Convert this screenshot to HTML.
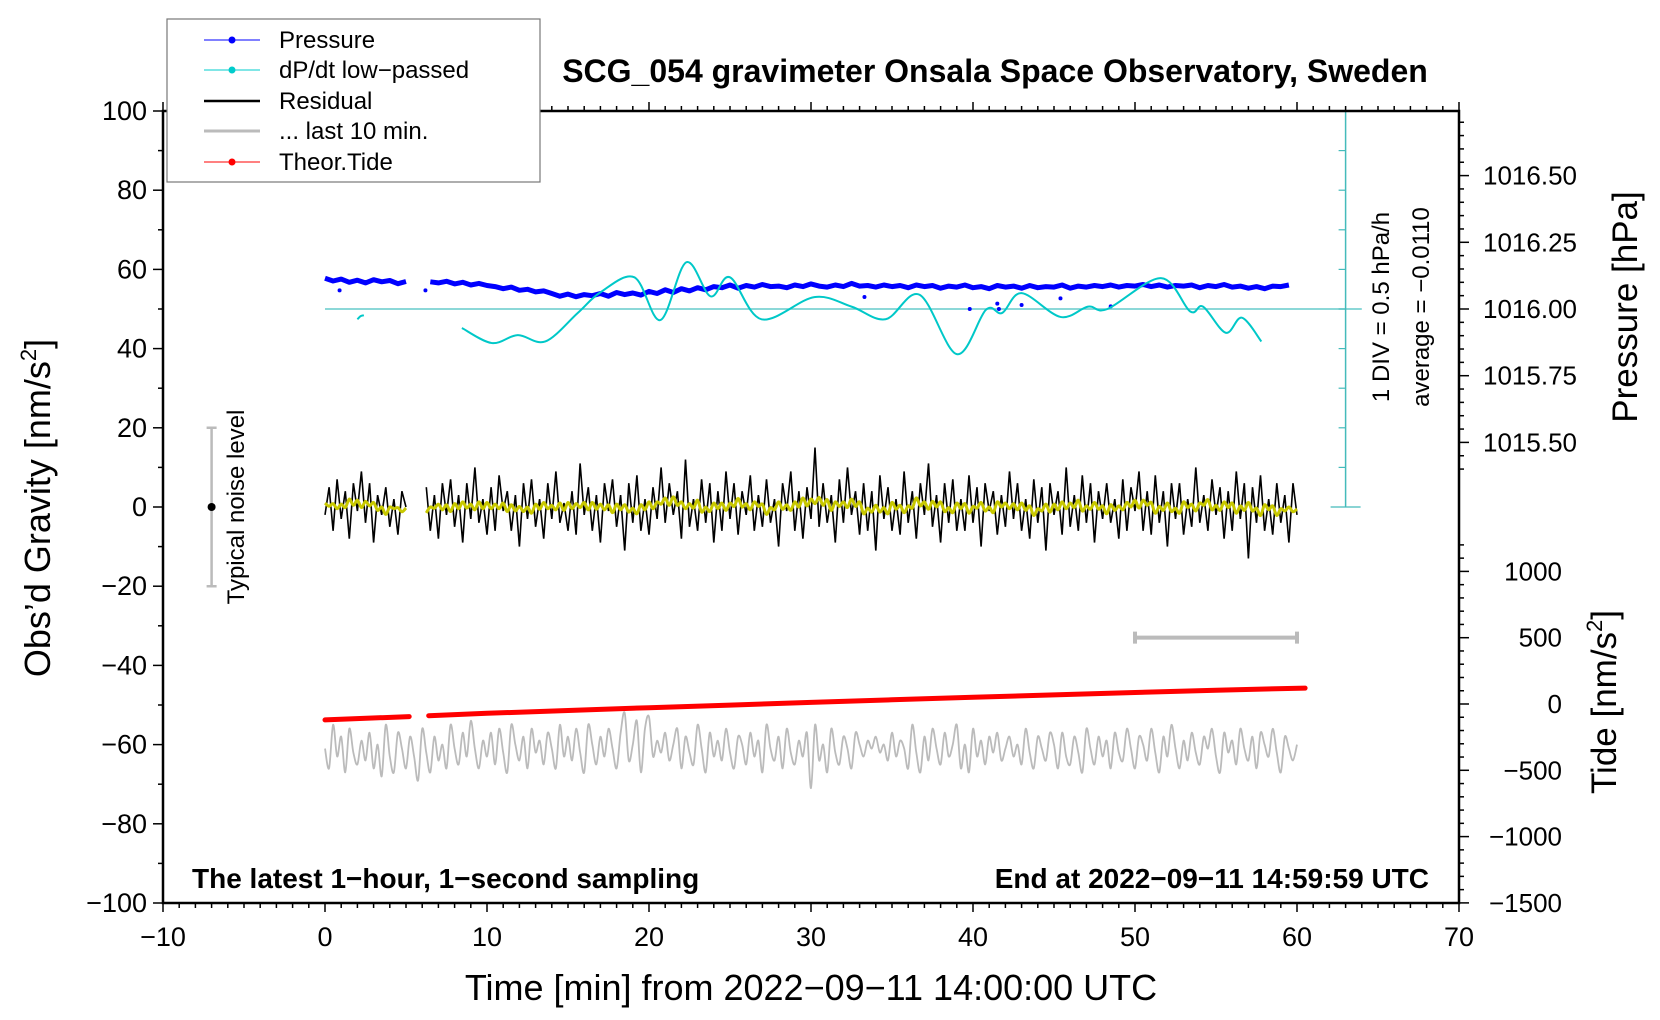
<!DOCTYPE html>
<html><head><meta charset="utf-8"><style>
html,body{margin:0;padding:0;background:#fff}
svg{display:block;font-family:"Liberation Sans",sans-serif}
</style></head><body>
<svg id="chart" width="1660" height="1020" viewBox="0 0 1660 1020" xmlns="http://www.w3.org/2000/svg">
<rect x="0" y="0" width="1660" height="1020" fill="#fff"/>
<g id="marks"></g>
<g id="axes"></g>
<text x="995" y="82" font-size="32" font-weight="bold" text-anchor="middle">SCG_054 gravimeter Onsala Space Observatory, Sweden</text>
<text transform="translate(50,508) rotate(-90)" font-size="36" text-anchor="middle">Obs’d Gravity [nm/s<tspan font-size="22" dy="-14">2</tspan><tspan dy="14">]</tspan></text>
<text x="811" y="1000" font-size="36" text-anchor="middle">Time [min] from 2022−09−11 14:00:00 UTC</text>
<text transform="translate(1637,307) rotate(-90)" font-size="35" text-anchor="middle">Pressure [hPa]</text>
<text transform="translate(1616,702) rotate(-90)" font-size="35" text-anchor="middle">Tide [nm/s<tspan font-size="22" dy="-14">2</tspan><tspan dy="14">]</tspan></text>
<text x="192" y="888" font-size="28" font-weight="bold">The latest 1−hour, 1−second sampling</text>
<text x="1429" y="888" font-size="28" font-weight="bold" text-anchor="end">End at 2022−09−11 14:59:59 UTC</text>
<text transform="translate(1389,307) rotate(-90)" font-size="24" text-anchor="middle">1 DIV = 0.5 hPa/h</text>
<text transform="translate(1429,307) rotate(-90)" font-size="24" text-anchor="middle">average = −0.0110</text>
<text transform="translate(244,507) rotate(-90)" font-size="24" text-anchor="middle">Typical noise level</text>
<g>
<rect x="167" y="19" width="373" height="163" fill="#fff" stroke="#777" stroke-width="1.2"/>
<line x1="204" y1="40" x2="260" y2="40" stroke="#0000ff" stroke-width="1"/><circle cx="232" cy="40" r="3.5" fill="#0000ff"/>
<text x="279" y="48" font-size="24">Pressure</text>
<line x1="204" y1="70" x2="260" y2="70" stroke="#00cccc" stroke-width="1"/><circle cx="232" cy="70" r="3.5" fill="#00cccc"/>
<text x="279" y="78" font-size="24">dP/dt low−passed</text>
<line x1="204" y1="101" x2="260" y2="101" stroke="#000" stroke-width="2.5"/>
<text x="279" y="109" font-size="24">Residual</text>
<line x1="204" y1="131" x2="260" y2="131" stroke="#bbb" stroke-width="3"/>
<text x="279" y="139" font-size="24">... last 10 min.</text>
<line x1="204" y1="162" x2="260" y2="162" stroke="#ff0000" stroke-width="1"/><circle cx="232" cy="162" r="3.5" fill="#ff0000"/>
<text x="279" y="170" font-size="24">Theor.Tide</text>
</g>
</svg>
<script>
// ---- data ----
const residualStart = 0, residualStep = 0.25;
const residualValues = [-2,5,-6,7,-3,4,-8,6,-1,9,-4,6,-9,3,-2,5,-5,2,-7,4,0,null,null,null,null,
5,-6,3,-8,6,-2,7,-5,3,-9,6,-3,10,-4,2,-7,5,-6,8,-1,4,-6,3,-10,6,-3,7,-5,2,-8,6,-3,9,-4,1,-6,
4,-7,11,-2,5,-6,3,-9,6,-1,7,-5,3,-11,6,-4,8,-6,2,-7,5,-3,10,-4,6,-2,4,-8,12,-5,2,-6,7,-4,6,-9,
4,-6,9,-3,6,-7,4,-2,8,-6,3,-5,7,-4,2,-10,6,-1,9,-6,4,-8,5,-3,15,-5,6,-4,3,-9,7,-4,10,-2,4,-7,
6,-6,4,-11,8,-3,5,-6,2,-7,9,-4,4,-8,6,-2,11,-5,3,-9,6,-4,7,-6,2,-6,8,-4,5,-10,6,-1,4,-7,3,-5,
9,-3,6,-6,2,-8,7,-4,5,-11,6,-2,4,-7,10,-5,3,-6,8,-4,6,-9,4,-3,6,-4,2,-8,7,-6,5,-1,9,-6,4,-7,
8,-4,4,-10,6,-3,6,-7,2,-5,10,-4,3,-6,7,-2,5,-8,4,-6,9,-3,6,-13,5,-4,8,-6,2,-7,6,-4,3,-9,6,-2];
const last10Start = 0, last10Step = 0.25;
const last10Values = [-61,-66,-55,-63,-58,-67,-56,-62,-65,-59,-64,-57,-66,-60,-68,-55,-63,-67,-57,-61,-66,-58,-63,-69,
-56,-62,-67,-58,-64,-60,-66,-55,-61,-65,-57,-63,-54,-61,-66,-59,-63,-57,-65,-56,-62,-67,-55,-60,
-64,-58,-66,-56,-62,-59,-65,-57,-61,-66,-55,-63,-58,-64,-56,-62,-67,-55,-60,-65,-58,-63,-56,-61,
-66,-57,-52,-64,-60,-54,-67,-56,-53,-63,-59,-62,-57,-64,-60,-56,-66,-58,-62,-65,-55,-61,-67,-57,
-63,-59,-64,-56,-62,-66,-58,-60,-65,-57,-63,-59,-67,-55,-61,-64,-58,-66,-56,-62,-65,-59,-63,-57,
-71,-55,-64,-60,-67,-56,-62,-65,-58,-61,-66,-57,-60,-63,-59,-61,-58,-62,-60,-64,-57,-63,-59,-61,
-66,-55,-62,-67,-58,-64,-56,-61,-65,-57,-63,-60,-55,-66,-60,-67,-56,-63,-59,-65,-58,-62,-57,-64,
-61,-58,-63,-60,-65,-56,-62,-66,-58,-61,-64,-57,-60,-66,-57,-63,-65,-58,-62,-67,-56,-61,-65,-58,
-63,-59,-66,-57,-62,-64,-56,-61,-66,-58,-60,-64,-56,-62,-67,-58,-63,-55,-61,-66,-59,-64,-57,-62,
-65,-58,-61,-56,-63,-67,-57,-62,-59,-65,-56,-61,-64,-58,-66,-57,-60,-63,-56,-62,-67,-58,-61,-64,-60];
const pressureStart = 0, pressureStep = 0.5;
const pressureValues = [1016.115,1016.105,1016.112,1016.100,1016.108,1016.098,1016.110,1016.102,1016.107,1016.095,1016.103,null,null,
1016.102,1016.098,1016.104,1016.094,1016.100,1016.090,1016.096,1016.088,
1016.084,1016.076,1016.082,1016.070,1016.074,1016.064,1016.068,1016.058,
1016.048,1016.056,1016.046,1016.054,1016.050,1016.058,1016.048,1016.062,1016.054,1016.060,1016.052,
1016.066,1016.058,1016.072,1016.062,1016.076,1016.068,1016.080,1016.072,1016.084,
1016.080,1016.090,1016.078,1016.088,1016.082,1016.092,1016.084,1016.086,1016.080,1016.090,1016.084,1016.094,
1016.086,1016.082,1016.090,1016.084,1016.096,1016.086,1016.088,1016.082,1016.090,1016.084,1016.088,1016.080,
1016.090,1016.084,1016.088,1016.078,1016.086,1016.082,1016.090,1016.080,1016.084,1016.076,1016.088,1016.082,
1016.086,1016.078,1016.088,1016.080,1016.084,1016.082,1016.090,1016.078,1016.086,1016.082,1016.088,1016.084,
1016.090,1016.082,1016.088,1016.086,1016.092,1016.084,1016.090,1016.082,1016.088,1016.086,1016.090,1016.080,
1016.088,1016.084,1016.092,1016.082,1016.086,1016.078,1016.084,1016.076,1016.086,1016.084,1016.090];
const pressureOutlierTimes = [0.9,6.2,33.3,39.8,41.5,41.6,43.0,45.4,48.5];
const pressureOutlierValues = [1016.07,1016.07,1016.045,1016.0,1016.02,1016.0,1016.015,1016.04,1016.01];
const dpdtSeg1Times = [2.0,2.2,2.4];
const dpdtSeg1Values = [-0.13,-0.09,-0.08];
const dpdtTimes = [8.45,10.3,11.9,13.6,15.6,17.0,19.1,20.7,22.3,23.8,25.0,26.95,30.2,32.5,34.6,36.7,39.0,40.8,41.8,43.0,45.4,47.1,48.3,51.6,53.4,54.2,55.6,56.6,57.8];
const dpdtValues = [-0.24,-0.43,-0.33,-0.41,-0.05,0.21,0.40,-0.14,0.59,0.16,0.40,-0.13,0.15,0.03,-0.13,0.18,-0.57,-0.01,-0.05,0.20,-0.10,0.03,0.0,0.39,-0.03,0.03,-0.30,-0.11,-0.41];
const tideTimes = [0,5.2,null,6.4,10,15,20,25,30,35,40,45,50,55,60.5];
const tideValues = [-120,-95,null,-88,-70,-49,-28,-8,12,32,51,69,87,104,120];
const leftTicks = [100,80,60,40,20,0,-20,-40,-60,-80,-100];
const xTicks = [-10,0,10,20,30,40,50,60,70];
const pressureTicks = [1016.50,1016.25,1016.00,1015.75,1015.50];
const tideTicks = [1000,500,0,-500,-1000,-1500];

// ---- scales ----
const X0=163, X1=1459, Y0=111, Y1=903;
const xs = t => X0 + (t+10)*(X1-X0)/80;
const yg = g => Y0 + (100-g)*(Y1-Y0)/200;
const yp = p => 309 - (p-1016.0)*66.7/0.25;
const yt = v => 704 - v*66.3/500;
const yd = d => 309 - d*39.6/0.5;
const NS="http://www.w3.org/2000/svg";
const marks=document.getElementById('marks'), axes=document.getElementById('axes');
function el(tag,attrs,parent){const e=document.createElementNS(NS,tag);for(const k in attrs)e.setAttribute(k,attrs[k]);parent.appendChild(e);return e;}
function segs(start,step,vals,yf){const out=[];let cur=[];vals.forEach((v,i)=>{if(v===null){if(cur.length)out.push(cur);cur=[];}else cur.push([xs(start+i*step),yf(v)]);});if(cur.length)out.push(cur);return out;}
function ptsStr(a){return a.map(p=>p[0].toFixed(1)+','+p[1].toFixed(1)).join(' ');}
function catmull(p){let d='M'+p[0][0]+','+p[0][1];for(let i=0;i<p.length-1;i++){const a=p[i-1]||p[i],b=p[i],c=p[i+1],e=p[i+2]||c;d+=' C'+(b[0]+(c[0]-a[0])/6)+','+(b[1]+(c[1]-a[1])/6)+' '+(c[0]-(e[0]-b[0])/6)+','+(c[1]-(e[1]-b[1])/6)+' '+c[0]+','+c[1];}return d;}

let e;
e=el('line',{x1:xs(0),y1:yd(0),x2:xs(64),y2:yd(0),stroke:'#66cccc','stroke-width':1.5},marks);


e=el('line',{x1:xs(63),y1:yg(100),x2:xs(63),y2:yg(0),stroke:'#44bbbb','stroke-width':1.5},marks);


for(let g=0;g<=100;g+=10){e=el('line',{x1:xs(63)-(g===0?15:7),y1:yg(g),x2:xs(63)+(g===0?15:0),y2:yg(g),stroke:'#44bbbb','stroke-width':1.2},marks);

}

// pressure
segs(pressureStart,pressureStep,pressureValues,yp).forEach(s=>{
 e=el('polyline',{points:ptsStr(s),fill:'none',stroke:'#0000ff','stroke-width':5,'stroke-linejoin':'round'},marks);
 
 
});
pressureOutlierTimes.forEach((t,i)=>{e=el('circle',{cx:xs(t),cy:yp(pressureOutlierValues[i]),r:2,fill:'#0000ff'},marks);

});

// dP/dt
[[dpdtSeg1Times,dpdtSeg1Values],[dpdtTimes,dpdtValues]].forEach(([ts,vs])=>{
 const p=ts.map((t,i)=>[xs(t),yd(vs[i])]);
 e=el('path',{d:catmull(p),fill:'none',stroke:'#00c8c8','stroke-width':2},marks);
 
 
});

// residual
segs(residualStart,residualStep,residualValues,yg).forEach(s=>{
 e=el('polyline',{points:ptsStr(s),fill:'none',stroke:'#000','stroke-width':1.6},marks);
 
 
});
const smooth=residualValues.map((v,i)=>{if(v===null)return null;let s=0,n=0;for(let k=-3;k<=3;k++){const w=residualValues[i+k];if(w!==undefined&&w!==null){s+=w;n++;}}return s/n;});
segs(residualStart,residualStep,smooth,yg).forEach(s=>{
 e=el('path',{d:catmull(s),fill:'none',stroke:'#c8c800','stroke-width':3},marks);
 
 
});

// last 10 min
segs(last10Start,last10Step,last10Values,yg).forEach(s=>{
 e=el('path',{d:catmull(s),fill:'none',stroke:'#bbbbbb','stroke-width':1.8},marks);
 
 
});
e=el('path',{d:`M${xs(50)},${yg(-33)}H${xs(60)}M${xs(50)},${yg(-33)-6}V${yg(-33)+6}M${xs(60)},${yg(-33)-6}V${yg(-33)+6}`,stroke:'#bbbbbb','stroke-width':4,fill:'none'},marks);



// tide
{let cur=[];const out=[];tideTimes.forEach((t,i)=>{if(t===null){out.push(cur);cur=[];}else cur.push([xs(t),yt(tideValues[i])]);});out.push(cur);
out.forEach(s=>{e=el('polyline',{points:ptsStr(s),fill:'none',stroke:'#ff0000','stroke-width':5,'stroke-linecap':'round'},marks);

});}

// noise bar
e=el('path',{d:`M${xs(-7)},${yg(20)}V${yg(-20)}M${xs(-7)-5},${yg(20)}H${xs(-7)+5}M${xs(-7)-5},${yg(-20)}H${xs(-7)+5}`,stroke:'#bbbbbb','stroke-width':2.5,fill:'none'},marks);


e=el('circle',{cx:xs(-7),cy:yg(0),r:4,fill:'#000'},marks);



// ---- axes ----
e=el('rect',{x:X0,y:Y0,width:X1-X0,height:Y1-Y0,fill:'none',stroke:'#000','stroke-width':2.5},axes);


function tk(x1,y1,x2,y2,w){el('line',{x1,y1,x2,y2,stroke:'#000','stroke-width':w||1.5},axes);}
for(let t=-10;t<=70;t++){const maj=t%10===0;tk(xs(t),Y1,xs(t),Y1+(maj?9:5));tk(xs(t),Y0,xs(t),Y0-(maj?9:5));}
for(let g=-100;g<=100;g+=10){const maj=g%20===0;tk(X0,yg(g),X0-(maj?10:5),yg(g));}
for(let p=1015.40;p<=1016.74;p+=0.05){const y=yp(p);if(y<Y0||y>505)continue;const maj=Math.abs(Math.round(p*4)-p*4)<0.01;tk(X1,y,X1+(maj?10:5),y);}
for(let v=-1500;v<=1200;v+=100){const y=yt(v);if(y<540||y>Y1)continue;const maj=v%500===0;tk(X1,y,X1+(maj?10:5),y);}
leftTicks.forEach(g=>{e=el('text',{x:X0-16,y:yg(g)+9,'font-size':27,'text-anchor':'end'},axes);e.textContent=String(g).replace('-','−');

});
xTicks.forEach(t=>{e=el('text',{x:xs(t),y:946,'font-size':27,'text-anchor':'middle'},axes);e.textContent=String(t).replace('-','−');

});
pressureTicks.forEach(p=>{e=el('text',{x:1483,y:yp(p)+9,'font-size':26},axes);e.textContent=p.toFixed(2);

});
tideTicks.forEach(v=>{e=el('text',{x:1562,y:yt(v)+9,'font-size':26,'text-anchor':'end'},axes);e.textContent=String(v).replace('-','−');

});
</script>
</body></html>
